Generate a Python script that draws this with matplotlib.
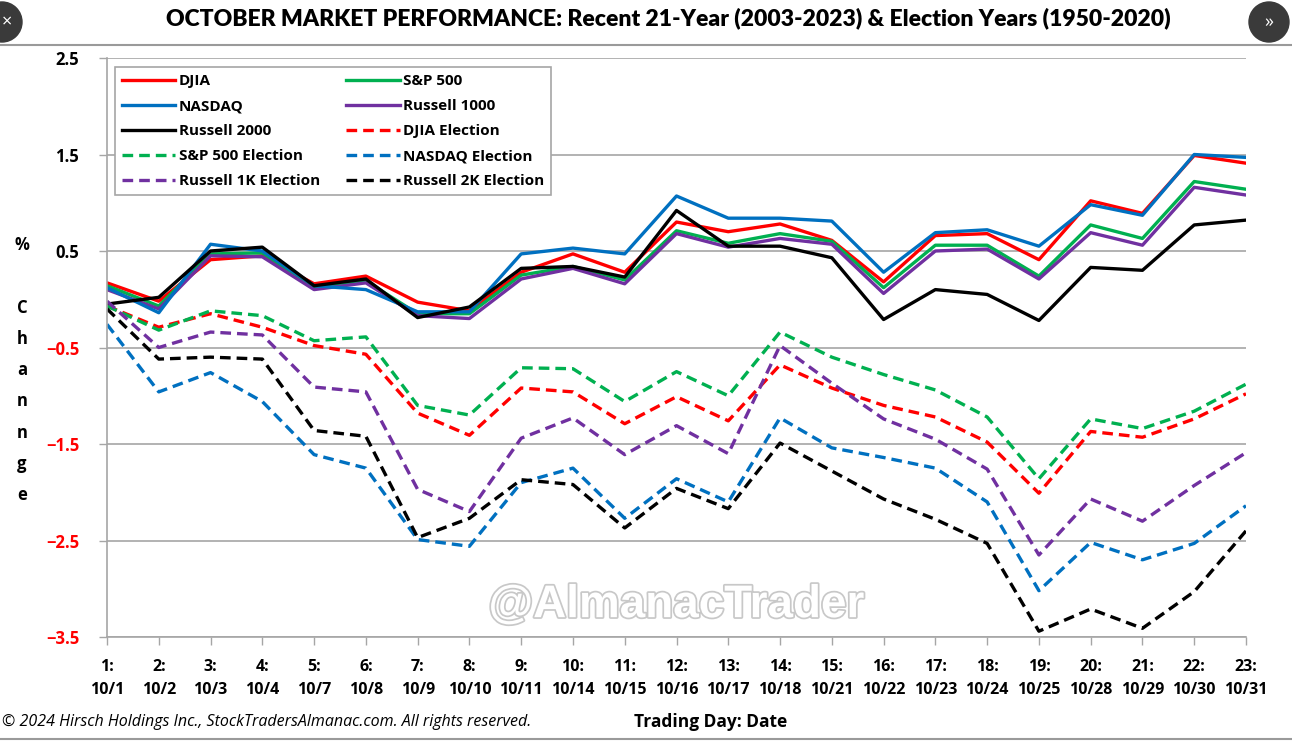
import matplotlib
matplotlib.use('Agg')
from matplotlib import pyplot as plt
from matplotlib import patheffects
from matplotlib.patches import Circle

# trading days in October (day number : date)
days = list(range(1, 24))
dates = ["10/1", "10/2", "10/3", "10/4", "10/7", "10/8", "10/9", "10/10", "10/11",
         "10/14", "10/15", "10/16", "10/17", "10/18", "10/21", "10/22", "10/23",
         "10/24", "10/25", "10/28", "10/29", "10/30", "10/31"]

# recent 21-year averages (2003-2023), cumulative % change
djia = [0.17, -0.02, 0.41, 0.45, 0.16, 0.24, -0.03, -0.12, 0.28, 0.47, 0.28, 0.80,
        0.70, 0.78, 0.61, 0.18, 0.66, 0.68, 0.41, 1.02, 0.89, 1.49, 1.41]
sp500 = [0.14, -0.07, 0.47, 0.48, 0.13, 0.19, -0.15, -0.15, 0.25, 0.34, 0.20, 0.71,
         0.58, 0.68, 0.60, 0.12, 0.56, 0.56, 0.24, 0.77, 0.63, 1.22, 1.14]
nasdaq = [0.12, -0.14, 0.57, 0.50, 0.14, 0.10, -0.13, -0.13, 0.47, 0.53, 0.47, 1.07,
          0.84, 0.84, 0.81, 0.28, 0.69, 0.72, 0.55, 0.98, 0.87, 1.50, 1.47]
russell1000 = [0.10, -0.10, 0.45, 0.44, 0.10, 0.17, -0.17, -0.20, 0.21, 0.32, 0.16, 0.68,
               0.54, 0.63, 0.57, 0.06, 0.50, 0.52, 0.21, 0.69, 0.56, 1.16, 1.08]
russell2000 = [-0.05, 0.02, 0.50, 0.54, 0.14, 0.21, -0.19, -0.08, 0.32, 0.34, 0.23, 0.92,
               0.55, 0.55, 0.43, -0.21, 0.10, 0.05, -0.22, 0.33, 0.30, 0.77, 0.82]

# election years (1950-2020)
djia_el = [-0.07, -0.29, -0.15, -0.29, -0.48, -0.57, -1.18, -1.41, -0.92, -0.96, -1.29, -1.01,
           -1.26, -0.68, -0.92, -1.10, -1.22, -1.48, -2.01, -1.37, -1.43, -1.24, -0.98]
sp500_el = [-0.07, -0.32, -0.12, -0.17, -0.43, -0.39, -1.10, -1.20, -0.71, -0.72, -1.06, -0.75,
            -1.00, -0.34, -0.60, -0.78, -0.94, -1.22, -1.86, -1.24, -1.34, -1.16, -0.88]
nasdaq_el = [-0.26, -0.96, -0.76, -1.06, -1.61, -1.75, -2.49, -2.56, -1.90, -1.75, -2.27, -1.86,
             -2.10, -1.23, -1.54, -1.64, -1.75, -2.10, -3.02, -2.52, -2.70, -2.53, -2.14]
russell1k_el = [-0.02, -0.50, -0.34, -0.37, -0.91, -0.96, -1.97, -2.20, -1.44, -1.23, -1.61, -1.31,
                -1.60, -0.48, -0.87, -1.24, -1.45, -1.76, -2.65, -2.07, -2.30, -1.93, -1.59]
russell2k_el = [-0.10, -0.62, -0.60, -0.62, -1.36, -1.42, -2.47, -2.27, -1.87, -1.92, -2.37, -1.96,
                -2.17, -1.49, -1.78, -2.07, -2.28, -2.53, -3.44, -3.21, -3.41, -3.03, -2.40]

yticks = [2.5, 1.5, 0.5, -0.5, -1.5, -2.5, -3.5]

RED = '#FF0000'
GREEN = '#00B050'
BLUE = '#0070C0'
PURPLE = '#7030A0'
BLACK = '#000000'

plt.rcParams['font.family'] = ['Open Sans', 'DejaVu Sans']

fig = plt.figure(figsize=(12.92, 7.43), dpi=100)
ax = fig.add_axes([107/1292, 1 - 637/743, (1246 - 107)/1292, (637 - 58)/743])

lw = 2.4
dash = (0, (3.2, 1.8))
series = [
    (djia, RED, '-', 'DJIA'),
    (sp500, GREEN, '-', 'S&P 500'),
    (russell1000, PURPLE, '-', 'Russell 1000'),
    (nasdaq, BLUE, '-', 'NASDAQ'),
    (russell2000, BLACK, '-', 'Russell 2000'),
    (djia_el, RED, dash, 'DJIA Election'),
    (sp500_el, GREEN, dash, 'S&P 500 Election'),
    (nasdaq_el, BLUE, dash, 'NASDAQ Election'),
    (russell1k_el, PURPLE, dash, 'Russell 1K Election'),
    (russell2k_el, BLACK, dash, 'Russell 2K Election'),
]
handles = {}
for vals, col, ls, name in series:
    ln, = ax.plot(days, vals, color=col, linestyle=ls, linewidth=lw, label=name)
    handles[name] = ln

ax.set_xlim(1, 23)
ax.set_ylim(-3.5, 2.5)
ax.set_yticks(yticks)
ax.set_yticklabels([("%.1f" % t).replace('-', '\u2212') for t in yticks],
                   fontweight='bold', fontsize=12)
for lab, t in zip(ax.get_yticklabels(), yticks):
    lab.set_color(RED if t < 0 else BLACK)
ax.set_xticks(days)
ax.set_xticklabels(["%d:\n%s" % (d, s) for d, s in zip(days, dates)],
                   fontweight='bold', fontsize=11.5, linespacing=1.6)
ax.tick_params(axis='both', direction='out', color='#A6A6A6', length=6, width=1)
ax.tick_params(axis='x', pad=10)
ax.tick_params(axis='y', pad=14)
ax.grid(axis='y', color='#A6A6A6', linewidth=1.2)
ax.set_axisbelow(True)
for side in ['top', 'right']:
    ax.spines[side].set_visible(False)
for side in ['left', 'bottom']:
    ax.spines[side].set_color('#A6A6A6')
    ax.spines[side].set_linewidth(1.2)

order = ['DJIA', 'NASDAQ', 'Russell 2000', 'S&P 500 Election', 'Russell 1K Election',
         'S&P 500', 'Russell 1000', 'DJIA Election', 'NASDAQ Election', 'Russell 2K Election']
leg = ax.legend([handles[n] for n in order], order, ncol=2, loc='upper left',
                bbox_to_anchor=(0.0, 0.997), fancybox=False, framealpha=1,
                edgecolor='#A6A6A6', prop={'weight': 'bold', 'size': 11},
                handlelength=3.5, handletextpad=0.25, columnspacing=1.7,
                labelspacing=0.72, borderpad=0.45)
leg.get_frame().set_linewidth(1.2)

# watermark
ax.text(0.5, 0.055, '@AlmanacTrader', transform=ax.transAxes, ha='center', va='center',
        fontsize=33, fontweight='bold', color='white', family='Liberation Sans',
        path_effects=[patheffects.withStroke(linewidth=2.5, foreground='#C8C8C8')], zorder=1)

fig.text(0.517, 1 - 18/743, 'OCTOBER MARKET PERFORMANCE: Recent 21-Year (2003-2023) & Election Years (1950-2020)',
         ha='center', va='center', fontsize=16.5, fontweight='heavy', family='Lato')
fig.text(22/1292, 1 - 236/743, '%\n\nC\nh\na\nn\nn\ng\ne', ha='center', va='top',
         fontsize=12, fontweight='bold', linespacing=1.95)
fig.text(2/1292, 1 - 722/743,
         '\u00a9 2024 Hirsch Holdings Inc., StockTradersAlmanac.com. All rights reserved.',
         ha='left', va='center', fontsize=11.5, style='italic', family='Open Sans')
fig.text(711/1292, 1 - 722/743, 'Trading Day: Date', ha='center', va='center',
         fontsize=12.5, fontweight='bold')

# separator lines of the page
fig.add_artist(plt.Line2D([0, 1], [1 - 45/743, 1 - 45/743], color='#9A9A9A', linewidth=1.5,
                          transform=fig.transFigure))
fig.add_artist(plt.Line2D([0, 1], [1 - 739/743, 1 - 739/743], color='#9A9A9A', linewidth=1.5,
                          transform=fig.transFigure))

# viewer buttons in the corners (positions in inches)
for cx, sym, dx in [(2, '\u00d7', 5), (1269, '\u00bb', 0)]:
    fig.add_artist(Circle((cx/100, (743 - 22)/100), 0.2, transform=fig.dpi_scale_trans,
                          color='#3A3A3A', zorder=5))
    fig.text((cx + dx)/1292, 1 - 22/743, sym, ha='center', va='center',
             color='white', fontsize=13, zorder=6)

fig.savefig('out.png', dpi=100)
